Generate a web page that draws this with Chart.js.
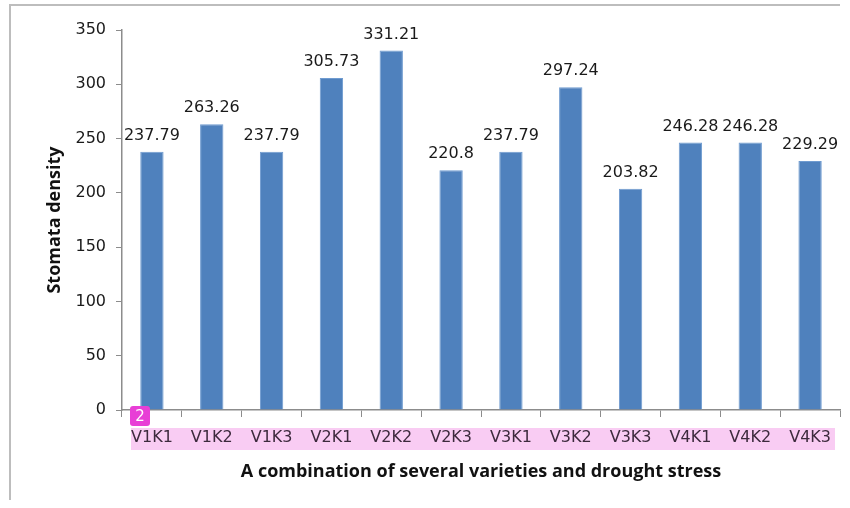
<!DOCTYPE html>
<html>
<head>
<meta charset="utf-8">
<script src="https://cdn.jsdelivr.net/npm/chart.js@4/dist/chart.umd.min.js"></script>
<style>
  body { margin: 0; background: #fff; }
  #wrap { width: 850px; height: 508px; }
</style>
</head>
<body>
<div id="wrap"><canvas id="barChart"></canvas></div>
<script>
const categories = ['V1K1', 'V1K2', 'V1K3', 'V2K1', 'V2K2', 'V2K3', 'V3K1', 'V3K2', 'V3K3', 'V4K1', 'V4K2', 'V4K3'];
const density = [237.79, 263.26, 237.79, 305.73, 331.21, 220.8, 237.79, 297.24, 203.82, 246.28, 246.28, 229.29];
const yTicks = [0, 50, 100, 150, 200, 250, 300, 350];

var barColor = '#4F81BD';
var axisColor = '#8c8c8c';
var font = "'DejaVu Sans', sans-serif";
var titleFont = "'Open Sans', 'Liberation Sans', sans-serif";

// frame, pink highlight behind category labels, value labels, badge
const decor = {
  id: 'decor',
  beforeDraw(chart) {
    const c = chart.ctx;
    c.save();
    c.strokeStyle = '#bdbdbd';
    c.lineWidth = 2;
    c.beginPath();
    c.moveTo(10, 500);
    c.lineTo(10, 5);
    c.lineTo(840, 5);
    c.stroke();
    // highlight
    c.fillStyle = '#f9ccf3';
    c.fillRect(131, 428, 704, 22);
    c.restore();
  },
  afterDatasetsDraw(chart) {
    const c = chart.ctx;
    const meta = chart.getDatasetMeta(0);
    c.save();
    c.font = '16px ' + font;
    c.fillStyle = '#1a1a1a';
    c.textAlign = 'center';
    c.textBaseline = 'bottom';
    meta.data.forEach((bar, i) => {
      c.fillText(String(density[i]), bar.x, bar.y - 8);
    });
    c.restore();
  },
  afterDraw(chart) {
    const c = chart.ctx;
    c.save();
    c.fillStyle = '#e83fd6';
    c.beginPath();
    c.roundRect(130, 406, 20, 20, 3);
    c.fill();
    c.fillStyle = '#fff';
    c.font = '15px ' + font;
    c.textAlign = 'center';
    c.textBaseline = 'middle';
    c.fillText('2', 140, 417);
    c.restore();
  }
};

new Chart(document.getElementById('barChart'), {
  type: 'bar',
  data: {
    labels: categories,
    datasets: [{
      data: density,
      backgroundColor: barColor,
      borderColor: '#6f9bd0',
      borderWidth: 1,
      barPercentage: 0.78,
      categoryPercentage: 0.5
    }]
  },
  options: {
    responsive: true,
    maintainAspectRatio: false,
    animation: false,
    layout: { padding: { left: 42, right: 10, top: 30, bottom: 23 } },
    plugins: {
      legend: { display: false },
      tooltip: { enabled: false }
    },
    scales: {
      x: {
        afterFit(scale) { scale.height = 75; },
        grid: {
          offset: true,
          drawOnChartArea: false,
          tickLength: 7,
          color: axisColor
        },
        border: { color: axisColor, width: 1.5 },
        ticks: {
          padding: 11,
          color: '#3d2a3d',
          font: { family: font, size: 16 }
        },
        title: {
          display: true,
          text: 'A combination of several varieties and drought stress',
          color: '#111',
          font: { family: titleFont, size: 18, weight: 'bold' },
          padding: { top: 4, bottom: 2 }
        }
      },
      y: {
        min: 0,
        max: 350,
        afterFit(scale) { scale.width = 80; },
        afterBuildTicks(scale) { scale.ticks = yTicks.map(v => ({ value: v })); },
        grid: {
          drawOnChartArea: false,
          tickLength: 6,
          color: axisColor
        },
        border: { color: axisColor, width: 1.5 },
        ticks: {
          padding: 10,
          color: '#1a1a1a',
          font: { family: font, size: 16 }
        },
        title: {
          display: true,
          text: 'Stomata density',
          color: '#111',
          font: { family: titleFont, size: 18, weight: 'bold' },
          padding: { top: 2, bottom: 4 }
        }
      }
    }
  },
  plugins: [decor]
});
</script>
</body>
</html>
